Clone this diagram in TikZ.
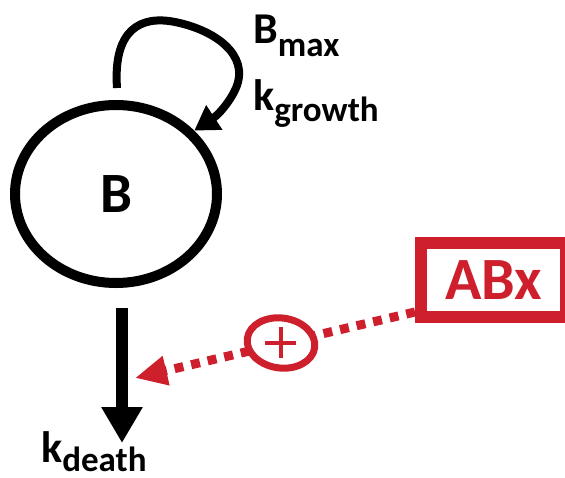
\documentclass[tikz,border=0pt]{standalone}
\usepackage{fontspec}
\setmainfont{Carlito}
\usetikzlibrary{arrows.meta,shapes.geometric}
\definecolor{abxred}{RGB}{205,32,44}
\begin{document}
\begin{tikzpicture}[x=1pt,y=-1pt,
  every node/.style={font=\bfseries},
  redbox/.style={draw=abxred, line width=12pt, text=abxred, inner sep=0pt},
  lbl/.style={anchor=base west, inner sep=0pt}]
\useasboundingbox (0,0) rectangle (565,477);
% main compartment
\node[draw, ellipse, line width=10pt, minimum width=202pt, minimum height=178pt, inner sep=0pt] (B) at (116,194) {\fontsize{57}{57}\selectfont B};
% self loop
\coordinate (ls) at (117,88);
\draw[line width=8pt, -{Triangle[length=24pt,width=28pt]}]
  (ls) .. controls (113,30) and (140,15) .. (175,22)
       .. controls (215,30) and (250,55) .. (236,88)
       .. controls (230,102) and (218,115) .. (B.39);
\node[lbl] (bmax) at (253,43) {\fontsize{44}{44}\selectfont B\raisebox{-13pt}{\fontsize{35}{35}\selectfont max}};
\node[lbl] (kgr) at (253,110) {\fontsize{44}{44}\selectfont k\raisebox{-11pt}{\fontsize{35}{35}\selectfont growth}};
% death
\coordinate (d1) at (122,308);
\coordinate (d2) at (122,443);
\draw[line width=12pt, -{Triangle[length=36pt,width=39pt]}] (d1) -- (d2);
\node[lbl] (kd) at (41,462) {\raisebox{0pt}[\height][0pt]{\fontsize{44}{44}\selectfont k\raisebox{-9pt}[\height][0pt]{\fontsize{35}{35}\selectfont death}}};
% antibiotic
\node[redbox, minimum width=145pt, minimum height=73.5pt] (A) at (493.5,280) {\fontsize{60}{60}\selectfont ABx};
\coordinate (as) at (415,312);
\coordinate (at) at (135,378);
\draw[abxred, line width=9pt, dash pattern=on 9pt off 8pt, -{Triangle[length=32pt,width=28pt]}] (as) -- (at);
\node[draw=abxred, fill=white, ellipse, line width=7pt, minimum width=68pt, minimum height=50pt, inner sep=0pt, rotate=-8] (P) at (281,343) {};
\draw[abxred, line width=4.5pt] ([xshift=-16pt]P.center) -- ([xshift=15pt]P.center);
\draw[abxred, line width=4.5pt] ([yshift=16pt]P.center) -- ([yshift=-15pt]P.center);
\end{tikzpicture}
\end{document}
